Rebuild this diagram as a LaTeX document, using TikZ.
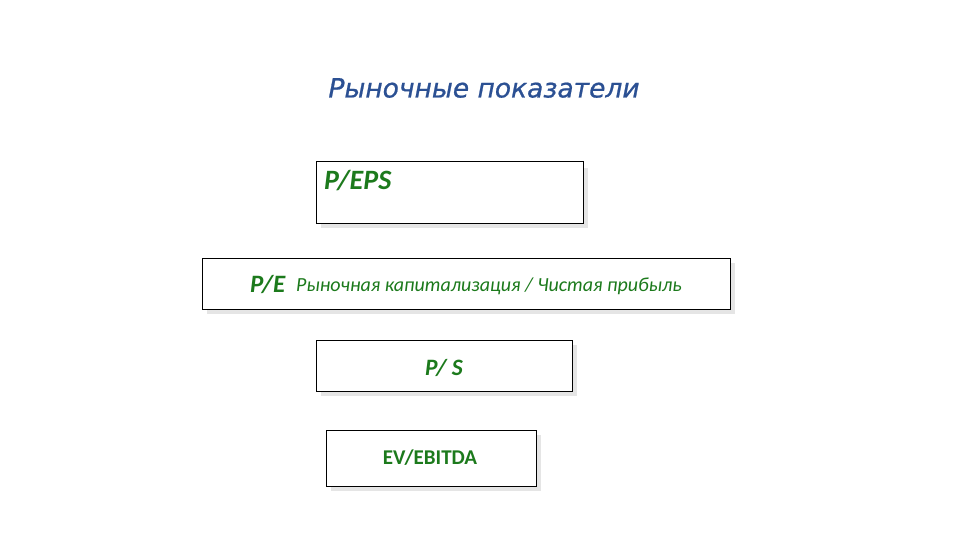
\documentclass[tikz,border=0pt]{standalone}
\usepackage{fontspec}
\setmainfont{Carlito}
\newfontfamily\titlefont[ItalicFeatures={FakeBold=0.8}]{DejaVu Sans}
\definecolor{titleblue}{HTML}{2B5093}
\definecolor{txtgreen}{HTML}{1C7A1C}
\begin{document}
\begin{tikzpicture}[x=1pt,y=1pt,
  box/.style={draw=black,line width=0.9pt,fill=white},
  shadowbox/.style={fill=black!10,draw=none},
  lbl/.style={text=txtgreen,inner sep=0pt}]
\useasboundingbox (0,0) rectangle (960,540);
% title
\node[text=titleblue,inner sep=0pt] (title) at (484,452) {\titlefont\itshape\fontsize{26.5}{30}\selectfont Рыночные показатели};
% box 1
\fill[shadowbox] (321,312) rectangle (588,372);
\draw[box] (316,317) rectangle (583,379);
\node[lbl,anchor=west] (peps) at (324,359) {\fontsize{28}{32}\selectfont\bfseries\itshape P/EPS};
% box 2
\fill[shadowbox] (207,226) rectangle (735,277);
\draw[box] (202,231) rectangle (730,282);
\node[lbl,anchor=west] (pe) at (250,255) {\fontsize{25}{29}\selectfont\bfseries\itshape P/E};
\node[lbl,anchor=west] (pedef) at (296,254) {\fontsize{20}{24}\selectfont\itshape Рыночная капитализация / Чистая прибыль};
% box 3
\fill[shadowbox] (321,144) rectangle (577,195);
\draw[box] (316,149) rectangle (572,200);
\node[lbl] (ps) at (444,172) {\fontsize{23.5}{27}\selectfont\bfseries\itshape P/ S};
% box 4
\fill[shadowbox] (331,49) rectangle (541,105);
\draw[box] (326,54) rectangle (536,110);
\node[lbl] (ev) at (430,82) {\fontsize{21}{24}\selectfont\bfseries EV/EBITDA};
\end{tikzpicture}
\end{document}
